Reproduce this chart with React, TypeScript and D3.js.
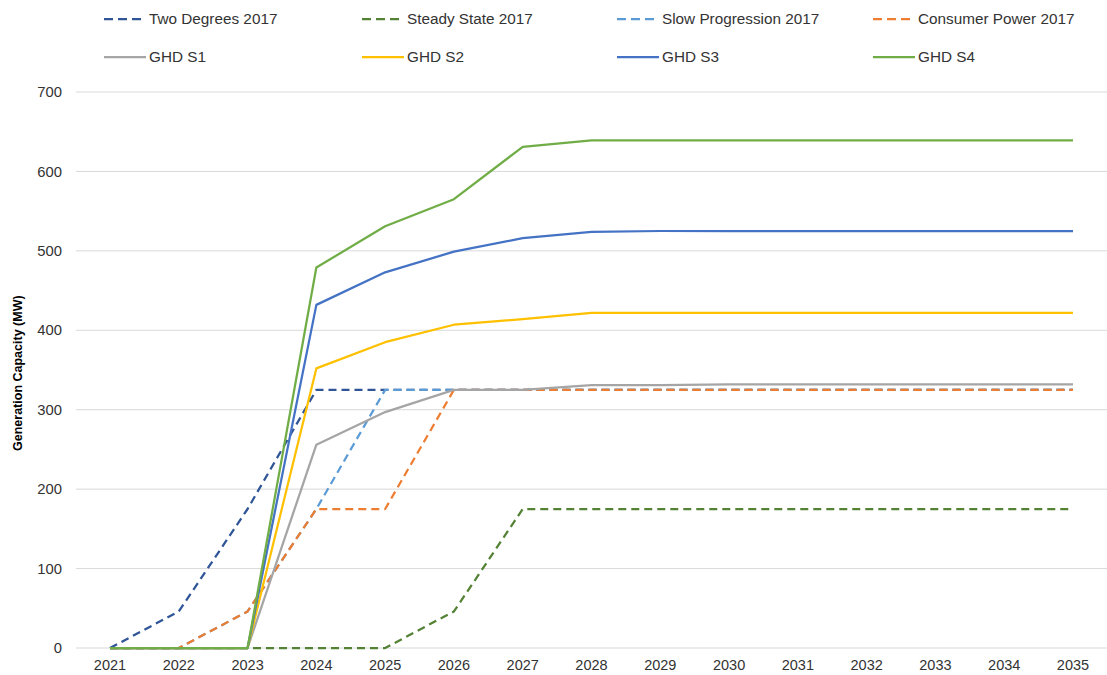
import React from "react";
import * as d3 from "d3";

const years = [2021,2022,2023,2024,2025,2026,2027,2028,2029,2030,2031,2032,2033,2034,2035];
const yTicks = [0,100,200,300,400,500,600,700];

const twoDegrees = [0,46,175,325,325,325,325,325,325,325,325,325,325,325,325];
const steadyState = [0,0,0,0,0,46,175,175,175,175,175,175,175,175,175];
const slowProgression = [0,0,46,175,325,325,325,325,325,325,325,325,325,325,325];
const consumerPower = [0,0,46,175,175,325,325,325,325,325,325,325,325,325,325];
const ghdS1 = [0,0,0,256,297,325,325,331,331,332,332,332,332,332,332];
const ghdS2 = [0,0,0,352,385,407,414,422,422,422,422,422,422,422,422];
const ghdS3 = [0,0,0,432,473,499,516,524,525,525,525,525,525,525,525];
const ghdS4 = [0,0,0,479,531,565,631,639,639,639,639,639,639,639,639];

const series = [
  { name: "Two Degrees 2017", values: twoDegrees, color: "#2F5597", dashed: true },
  { name: "Steady State 2017", values: steadyState, color: "#548235", dashed: true },
  { name: "Slow Progression 2017", values: slowProgression, color: "#5B9BD5", dashed: true },
  { name: "Consumer Power 2017", values: consumerPower, color: "#ED7D31", dashed: true },
  { name: "GHD S1", values: ghdS1, color: "#A5A5A5", dashed: false },
  { name: "GHD S2", values: ghdS2, color: "#FFC000", dashed: false },
  { name: "GHD S3", values: ghdS3, color: "#4472C4", dashed: false },
  { name: "GHD S4", values: ghdS4, color: "#70AD47", dashed: false },
];

export default function App() {
  const W = 1107, H = 675;
  const x = d3.scaleLinear().domain([2021, 2035]).range([110, 1073]);
  const y = d3.scaleLinear().domain([0, 700]).range([648, 92]);
  const line = d3.line<number>().x((_, i) => x(years[i])).y((d) => y(d));
  const font = "'Liberation Sans', Arial, sans-serif";
  const legendX = [104, 362, 617, 873];
  const legendY = [19, 57];
  const textColor = "#333333";

  return (
    <svg width={W} height={H} style={{ position: "absolute", left: 0, top: 0 }} fontFamily={font}>
      <rect width={W} height={H} fill="#fff" />
      {yTicks.map((t) => (
        <g key={t}>
          <line x1={76} x2={1107} y1={y(t)} y2={y(t)} stroke="#D9D9D9" strokeWidth={1} />
          <text x={62} y={y(t)} dy="0.35em" textAnchor="end" fontSize={14.8} fill={textColor}>{t}</text>
        </g>
      ))}
      {years.map((yr) => (
        <text key={yr} x={x(yr)} y={670} textAnchor="middle" fontSize={14.5} fill={textColor}>{yr}</text>
      ))}
      <text transform={`translate(22,${y(346)}) rotate(-90)`} textAnchor="middle" fontSize={12.5} fontWeight="bold" fill="#000">
        Generation Capacity (MW)
      </text>
      {series.map((s) => (
        <path key={s.name} d={line(s.values) || ""} fill="none" stroke={s.color} strokeWidth={2.25}
          strokeDasharray={s.dashed ? "8,5" : undefined} strokeLinejoin="round" />
      ))}
      {series.map((s, i) => {
        const lx = legendX[i % 4];
        const ly = legendY[Math.floor(i / 4)];
        return (
          <g key={"lg" + s.name}>
            <line x1={lx} x2={lx + 42} y1={ly} y2={ly} stroke={s.color} strokeWidth={2.25}
              strokeDasharray={s.dashed ? "9,5" : undefined} />
            <text x={lx + 45} y={ly} dy="0.35em" fontSize={15.3} fill={textColor}>{s.name}</text>
          </g>
        );
      })}
    </svg>
  );
}
